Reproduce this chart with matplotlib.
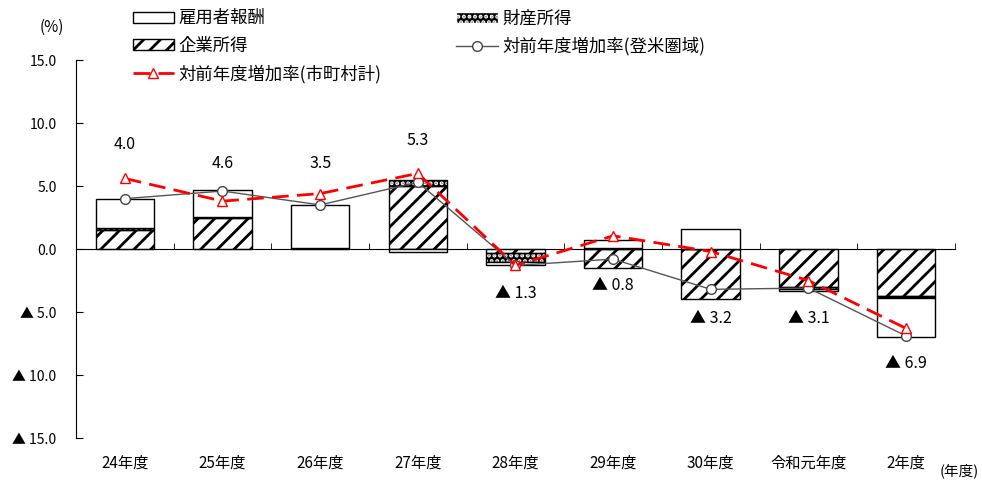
import numpy as np
import matplotlib
matplotlib.use('Agg')
import matplotlib.pyplot as plt
from matplotlib.patches import Patch
from matplotlib.lines import Line2D

plt.rcParams['font.family'] = ['Noto Sans CJK JP', 'DejaVu Sans']
plt.rcParams['hatch.linewidth'] = 2.0

# データ（％）
categories = ['24年度', '25年度', '26年度', '27年度', '28年度', '29年度', '30年度', '令和元年度', '2年度']
koyo = [2.3, 2.1, 3.4, -0.2, -0.3, 0.6, 1.6, -0.2, -3.1]       # 雇用者報酬
zaisan = [0.2, 0.05, 0.0, 0.5, -0.7, 0.1, 0.0, -0.15, -0.2]    # 財産所得
kigyo = [1.5, 2.5, 0.1, 5.0, -0.3, -1.5, -4.0, -3.0, -3.7]     # 企業所得
tome = [4.0, 4.6, 3.5, 5.3, -1.3, -0.8, -3.2, -3.1, -6.9]      # 対前年度増加率（登米圏域）
city = [5.6, 3.8, 4.4, 6.0, -1.3, 1.05, -0.2, -2.5, -6.3]      # 対前年度増加率（市町村計）

# ラベルの縦位置
label_y = [8.3, 6.8, 6.8, 8.6, -3.5, -2.9, -5.5, -5.5, -9.1]


def fmt(v):
    if v < 0:
        return '▲ {:.1f}'.format(-v)
    return '{:.1f}'.format(v)


fig = plt.figure(figsize=(9.82, 4.84), dpi=100)
ax = fig.add_axes([0.0774, 0.095, 0.895, 0.781])

x = np.arange(len(categories))
w = 0.6
pos = np.zeros(len(x))
neg = np.zeros(len(x))

def stack(vals):
    global pos, neg
    vals = np.array(vals, dtype=float)
    bottom = np.where(vals >= 0, pos, neg)
    pos = pos + np.where(vals >= 0, vals, 0)
    neg = neg + np.where(vals < 0, vals, 0)
    return vals, bottom

v, b = stack(kigyo)
ax.bar(x, v, w, bottom=b, color='white', edgecolor='black', hatch='//', linewidth=0, zorder=2)
ax.bar(x, v, w, bottom=b, fill=False, edgecolor='black', linewidth=1.0, zorder=3)
v, b = stack(zaisan)
ax.bar(x, v, w, bottom=b, color='black', edgecolor='white', hatch='...', linewidth=0, zorder=2)
ax.bar(x, v, w, bottom=b, fill=False, edgecolor='black', linewidth=1.0, zorder=3)
v, b = stack(koyo)
ax.bar(x, v, w, bottom=b, color='white', edgecolor='black', linewidth=1.0, zorder=3)

ax.plot(x, tome, color='#555555', linewidth=1.0, marker='o', markersize=7,
        markerfacecolor='white', markeredgecolor='#444444', zorder=5)
ax.plot(x, city, color='red', linewidth=2.0, dashes=(6, 3), marker='^', markersize=7,
        markerfacecolor='white', markeredgecolor='red', markeredgewidth=1.0, zorder=6)

for xi, v, ly in zip(x, tome, label_y):
    ax.text(xi, ly, fmt(v), ha='center', va='center', fontsize=11.5)

ax.set_xlim(-0.5, len(categories) - 0.5)
ax.set_ylim(-15, 15)
yt = np.arange(-15, 16, 5)
ax.set_yticks(yt)
ax.set_yticklabels([fmt(t) for t in yt], fontsize=10)
ax.tick_params(axis='y', direction='in', length=5, pad=14)

ax.spines['top'].set_visible(False)
ax.spines['right'].set_visible(False)
ax.spines['bottom'].set_position(('data', 0))
ax.set_xticks([])
ax.set_xticks(np.arange(0.5, len(categories)), minor=True)
ax.tick_params(axis='x', which='minor', direction='in', length=4)

for xi, c in zip(x, categories):
    ax.text(xi, -0.066, c, transform=ax.get_xaxis_transform(), ha='center', va='center', fontsize=11)
fig.text(0.997, 0.028, '(年度)', ha='right', va='center', fontsize=10.5)
fig.text(0.053, 0.944, '(%)', ha='center', va='center', fontsize=11)

handles = [
    Patch(facecolor='white', edgecolor='black', label='雇用者報酬'),
    Patch(facecolor='white', edgecolor='black', hatch='//', label='企業所得'),
    Line2D([], [], color='red', linewidth=2.0, dashes=(6, 3), marker='^', markersize=7,
           markerfacecolor='white', markeredgecolor='red', label='対前年度増加率(市町村計)'),
    Patch(facecolor='black', edgecolor='white', hatch='...', label='財産所得'),
    Line2D([], [], color='#555555', linewidth=1.0, marker='o', markersize=7,
           markerfacecolor='white', markeredgecolor='#444444', label='対前年度増加率(登米圏域)'),
]
fig.legend(handles=handles, loc='upper left', bbox_to_anchor=(0.135, 0.981), ncol=2,
           frameon=False, fontsize=12.5, handlelength=2.4, handleheight=0.6,
           labelspacing=0.55, columnspacing=4.3, handletextpad=0.25, borderpad=0, borderaxespad=0)

fig.savefig('out.png', dpi=100)
